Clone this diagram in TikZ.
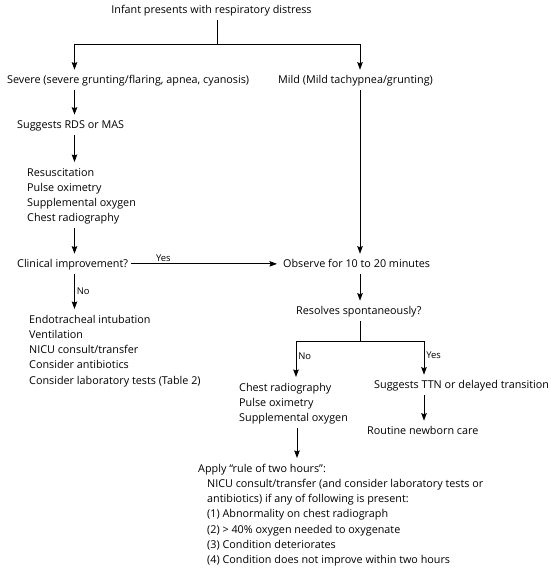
\documentclass[tikz,border=0pt]{standalone}
\usepackage{fontspec}
\setmainfont{Open Sans}
\usetikzlibrary{arrows.meta,calc}
\newcommand{\topstrut}{\rule{0pt}{13.8pt}}
\newcommand{\botstrut}{\rule[-6.2pt]{0pt}{6.2pt}}
\begin{document}
\begin{tikzpicture}[x=1pt,y=-1pt,
  every node/.style={font=\fontsize{10.8}{15.3}\selectfont},
  txt/.style={inner xsep=0pt,inner ysep=0pt,text height=13.8pt,text depth=6.2pt,anchor=mid west},
  multi/.style={inner sep=0pt,anchor=north west,align=left},
  conn/.style={line width=0.8pt},
  arr/.style={conn,-{Stealth[length=7.5pt,width=5.5pt,inset=1pt]}},
  lbl/.style={inner sep=2pt,font=\fontsize{9.4}{11}\selectfont}]
\useasboundingbox (0,0) rectangle (550,572);

\node[txt,anchor=mid] (infant) at (211.5,11) {Infant presents with respiratory distress};
\node[txt] (severe) at (7,81) {Severe (severe grunting/flaring, apnea, cyanosis)};
\node[txt] (mild) at (278,81) {Mild (Mild tachypnea/grunting)};
\node[txt] (rds) at (17,126) {Suggests RDS or MAS};
\node[multi] (resus) at (27,162) {\topstrut Resuscitation\\Pulse oximetry\\Supplemental oxygen\\Chest radiography\botstrut};
\node[txt] (clin) at (17,265) {Clinical improvement?};
\node[txt] (obs) at (283,265) {Observe for 10 to 20 minutes};
\node[txt] (resolves) at (296,312) {Resolves spontaneously?};
\node[multi] (endo) at (29,309) {\topstrut Endotracheal intubation\\Ventilation\\NICU consult/transfer\\Consider antibiotics\\Consider laboratory tests (Table 2)\botstrut};
\node[multi] (chest) at (239,377) {\topstrut Chest radiography\\Pulse oximetry\\Supplemental oxygen\botstrut};
\node[txt] (ttn) at (374,386) {Suggests TTN or delayed transition};
\node[txt] (routine) at (367,432) {Routine newborn care};
\node[multi] (apply) at (198,458) {\topstrut Apply \textquotedblleft rule of two hours\textquotedblright:\\
\hspace*{9pt}NICU consult/transfer (and consider laboratory tests or\\
\hspace*{9pt}antibiotics) if any of following is present:\\
\hspace*{9pt}(1) Abnormality on chest radiograph\\
\hspace*{9pt}(2) {>} 40\% oxygen needed to oxygenate\\
\hspace*{9pt}(3) Condition deteriorates\\
\hspace*{9pt}(4) Condition does not improve within two hours\botstrut};

\coordinate (top) at (217,44);
\coordinate (jl) at (74.5,44);
\coordinate (jr) at (360,44);
\coordinate (jm) at (360,341);
\coordinate (jn) at (296,341);
\coordinate (jy) at (424,341);
\coordinate (ja) at (297,0);

\draw[conn] (top |- infant.south) -- (top);
\draw[conn] (jl) -- (jr);
\draw[arr] (jl) -- (jl |- severe.north);
\draw[arr] (jr) -- (jr |- mild.north);
\draw[arr] (jl |- severe.south) -- (jl |- rds.north);
\draw[arr] (jl |- rds.south) -- (jl |- resus.north);
\draw[arr] (jl |- resus.south) -- (jl |- clin.north);
\draw[arr] ([xshift=3pt]clin.east) -- node[lbl,above,pos=0.22] {Yes} ([xshift=-6pt]obs.west);
\draw[arr] (jr |- mild.south) -- (jr |- obs.north);
\draw[arr] (jl |- clin.south) -- node[lbl,right,pos=0.5] {No} (jl |- endo.north);
\draw[arr] (jr |- obs.south) -- (jr |- resolves.north);
\draw[conn] (jm |- resolves.south) -- (jm);
\draw[conn] (jn) -- (jy);
\draw[arr] (jn) -- node[lbl,right,pos=0.43] {No} (jn |- chest.north);
\draw[arr] (jy) -- node[lbl,right,pos=0.43] {Yes} (jy |- ttn.north);
\draw[arr] (jy |- ttn.south) -- (jy |- routine.north);
\draw[arr] (ja |- chest.south) -- (ja |- apply.north);
\end{tikzpicture}
\end{document}
